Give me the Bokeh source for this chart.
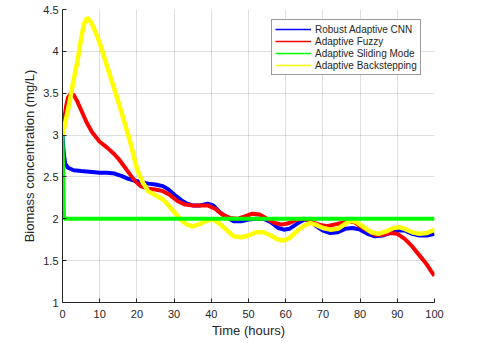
from bokeh.plotting import figure
from bokeh.models import Range1d, FixedTicker, Legend, LegendItem
from bokeh.embed import file_html
from bokeh.resources import INLINE

# ---- data ----
x_ticks = [0, 10, 20, 30, 40, 50, 60, 70, 80, 90, 100]
x_tick_labels = ["0", "10", "20", "30", "40", "50", "60", "70", "80", "90", "100"]
y_ticks = [1, 1.5, 2, 2.5, 3, 3.5, 4, 4.5]
y_tick_labels = ["1", "1.5", "2", "2.5", "3", "3.5", "4", "4.5"]

series_names = ["Robust Adaptive CNN", "Adaptive Fuzzy", "Adaptive Sliding Mode", "Adaptive Backstepping"]

t_cnn = [0, 0.3, 0.7, 1.5, 3, 5, 8, 10, 12, 14, 16, 17.5, 19, 21, 23, 25, 27, 28.5, 30, 32, 33.5,
         35, 37, 39, 40.5, 42, 44, 46, 48, 50, 52, 54, 56, 58, 59.5, 61, 63, 65, 66.5, 68, 70,
         72, 74, 76, 78, 80, 82, 84, 86, 88, 90, 92, 94, 96, 98, 100]
y_cnn = [3.0, 2.8, 2.66, 2.61, 2.58, 2.57, 2.56, 2.55, 2.55, 2.54, 2.51, 2.48, 2.46, 2.44, 2.42,
         2.41, 2.39, 2.35, 2.29, 2.22, 2.18, 2.16, 2.16, 2.18, 2.16, 2.09, 2.02, 1.97, 1.97, 1.99,
         2.0, 2.0, 1.96, 1.89, 1.87, 1.88, 1.94, 1.99, 1.98, 1.92, 1.86, 1.83, 1.84, 1.88, 1.89,
         1.87, 1.82, 1.79, 1.80, 1.83, 1.86, 1.86, 1.82, 1.80, 1.80, 1.82]

t_fuzzy = [0, 0.5, 1, 1.5, 2.3, 3, 4, 5, 6.5, 8, 10, 12, 13.5, 15, 16.5, 18, 19.5, 21, 23, 25, 27,
           29, 31, 33, 35, 37, 39, 41, 43, 45, 47, 49, 51, 53, 55, 57, 59, 61, 63, 65, 67, 69, 71,
           73, 75, 77, 78.5, 80, 82, 84, 86, 88, 90, 92, 94, 96, 98, 99, 100]
y_fuzzy = [3.0, 3.2, 3.35, 3.45, 3.5, 3.48, 3.4, 3.3, 3.15, 3.03, 2.92, 2.85, 2.79, 2.72, 2.63,
           2.54, 2.45, 2.39, 2.36, 2.35, 2.33, 2.28, 2.21, 2.17, 2.16, 2.16, 2.16, 2.12, 2.05,
           2.01, 2.0, 2.03, 2.06, 2.05, 2.0, 1.95, 1.93, 1.95, 1.99, 2.0, 1.96, 1.93, 1.91, 1.93,
           1.95, 1.97, 1.96, 1.91, 1.86, 1.81, 1.81, 1.83, 1.82, 1.76, 1.67, 1.56, 1.45, 1.38, 1.32]

t_sliding = [0, 0.4, 100]
y_sliding = [3.0, 2.0, 2.0]

t_back = [0, 1, 2, 3, 4, 5, 5.8, 6.6, 7.5, 8.5, 10, 12, 14.5, 16, 18, 20, 21.5, 23, 25, 27, 28.5,
          30, 32, 33.5, 35, 37, 39, 40.5, 42, 44, 46, 48, 50, 52, 54, 56, 58, 59.5, 61, 63, 65,
          66.5, 68, 70, 72, 74, 76, 77.5, 79, 81, 83, 85, 87, 89, 90.5, 92, 94, 96, 98, 100]
y_back = [3.0, 3.2, 3.42, 3.66, 3.88, 4.15, 4.33, 4.4, 4.36, 4.27, 4.1, 3.82, 3.47, 3.25, 2.95,
          2.6, 2.44, 2.33, 2.28, 2.23, 2.16, 2.08, 1.98, 1.93, 1.91, 1.94, 1.98, 1.99, 1.95, 1.87,
          1.79, 1.78, 1.80, 1.84, 1.84, 1.80, 1.75, 1.74, 1.77, 1.85, 1.92, 1.95, 1.93, 1.89,
          1.87, 1.88, 1.94, 1.98, 1.96, 1.90, 1.84, 1.82, 1.85, 1.89, 1.90, 1.88, 1.84, 1.82,
          1.83, 1.87]

colors = ["#0000FF", "#FF0000", "#00FF00", "#FFFF00"]

FONT = "Liberation Sans"
TXT = "#262626"

p = figure(width=480, height=343, output_backend="svg", toolbar_location=None,
           x_range=Range1d(0, 100), y_range=Range1d(1, 4.5),
           min_border_left=62, min_border_right=46, min_border_top=9, min_border_bottom=41)
p.outline_line_color = None
p.background_fill_color = "white"
p.border_fill_color = "white"

r_cnn = p.line(t_cnn, y_cnn, line_color=colors[0], line_width=4)
r_fuzzy = p.line(t_fuzzy, y_fuzzy, line_color=colors[1], line_width=4)
r_back = p.line(t_back, y_back, line_color=colors[3], line_width=4.5)
r_slide = p.line(t_sliding, y_sliding, line_color=colors[2], line_width=4)

# thin line samples for the legend (a single NaN point, nothing drawn in the plot)
nan = float("nan")
leg_r = [p.line([nan], [nan], line_color=c, line_width=1.5) for c in colors]

for ax in (p.xaxis[0], p.yaxis[0]):
    ax.axis_line_color = TXT
    ax.major_tick_line_color = TXT
    ax.major_tick_in = 4
    ax.major_tick_out = 0
    ax.minor_tick_line_color = None
    ax.major_label_text_font = FONT
    ax.major_label_text_font_size = "11px"
    ax.major_label_text_color = TXT
    ax.axis_label_text_font = FONT
    ax.axis_label_text_font_size = "13px"
    ax.axis_label_text_font_style = "normal"
    ax.axis_label_text_color = TXT

p.xaxis.ticker = FixedTicker(ticks=x_ticks)
p.xaxis.major_label_overrides = dict(zip(x_ticks, x_tick_labels))
p.yaxis.ticker = FixedTicker(ticks=y_ticks)
p.yaxis.major_label_overrides = dict(zip(y_ticks, y_tick_labels))
p.xaxis.axis_label = "Time (hours)"
p.yaxis.axis_label = "Biomass concentration (mg/L)"
p.xaxis.major_label_standoff = 7
p.xaxis.axis_label_standoff = 2
p.yaxis.major_label_standoff = 4
p.yaxis.axis_label_standoff = 3

for g in (p.xgrid[0], p.ygrid[0]):
    g.grid_line_color = TXT
    g.grid_line_alpha = 0.15

legend = Legend(items=[LegendItem(label=n, renderers=[r]) for n, r in zip(series_names, leg_r)],
                location=(209, 227))
legend.margin = 0
legend.padding = 3
legend.spacing = 0
legend.label_height = 12
legend.glyph_height = 12
legend.glyph_width = 36
legend.label_standoff = 4
legend.label_text_font = FONT
legend.label_text_font_size = "10px"
legend.label_text_color = TXT
legend.border_line_color = "#333333"
legend.border_line_width = 1
legend.background_fill_color = "white"
legend.background_fill_alpha = 1
p.add_layout(legend)

open("out.html", "w").write(file_html(p, INLINE))
